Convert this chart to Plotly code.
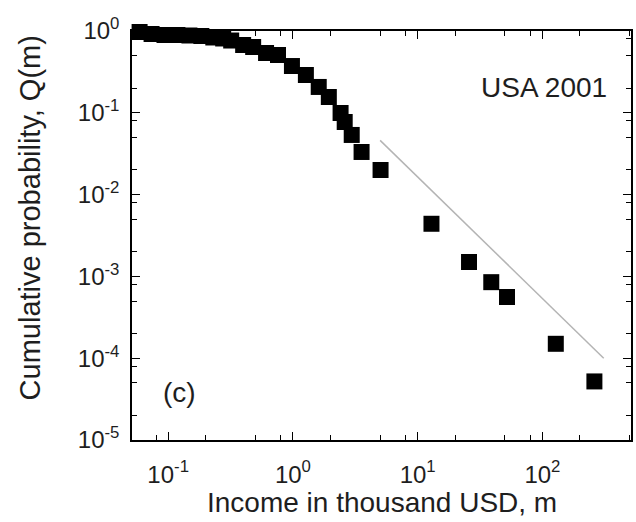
import plotly.graph_objects as go

# Cumulative income distribution, USA 2001 (income in thousand USD)
income = [0.059, 0.0736, 0.0934, 0.1186, 0.148, 0.1845, 0.230, 0.276, 0.320,
          0.399, 0.480, 0.609, 0.759, 0.982, 1.27, 1.61, 1.94, 2.41, 2.60,
          2.96, 3.55, 5.04, 12.9, 25.8, 38.9, 52.0, 128.0, 261.0]
cum_prob = [0.972, 0.919, 0.894, 0.894, 0.881, 0.869, 0.833, 0.81, 0.765,
            0.674, 0.637, 0.538, 0.509, 0.373, 0.290, 0.207, 0.156, 0.0995,
            0.0772, 0.0536, 0.0332, 0.020, 0.0044, 0.0015, 0.00085, 0.00056,
            0.000150, 0.000052]

# Power-law guide line (Pareto tail)
fit_x = [5.0, 310.0]
fit_y = [0.046, 0.0001]

x_tickvals = [0.1, 1, 10, 100]
x_ticktext = ["10<sup>-1</sup>", "10<sup>0</sup>", "10<sup>1</sup>", "10<sup>2</sup>"]
y_tickvals = [1e-5, 1e-4, 1e-3, 1e-2, 1e-1, 1]
y_ticktext = ["10<sup>-5</sup>", "10<sup>-4</sup>", "10<sup>-3</sup>",
              "10<sup>-2</sup>", "10<sup>-1</sup>", "10<sup>0</sup>"]
minor_mults = [2, 5, 8]

FONT = "Liberation Sans, Arial, sans-serif"
INK = "#1e1e1e"

def minor_vals(lo_exp, hi_exp):
    return [m * 10 ** e for e in range(lo_exp, hi_exp) for m in minor_mults]

fig = go.Figure()
fig.add_trace(go.Scatter(
    x=fit_x, y=fit_y, mode="lines",
    line=dict(color="#b4b4b4", width=1.5),
    showlegend=False, hoverinfo="skip",
))
fig.add_trace(go.Scatter(
    x=income, y=cum_prob, mode="markers",
    marker=dict(symbol="square", size=16, color="black", line=dict(width=0)),
    cliponaxis=False, showlegend=False,
))

axis_common = dict(
    showgrid=False, zeroline=False,
    showline=True, linecolor="black", linewidth=1.5, mirror="allticks",
    ticks="inside", ticklen=8, tickwidth=1.2, tickcolor="black",
    tickfont=dict(family=FONT, size=24, color=INK),
)

fig.update_xaxes(
    type="log", range=[-1.29, 2.71],
    tickvals=x_tickvals, ticktext=x_ticktext,
    minor=dict(tickvals=minor_vals(-2, 3), ticks="inside", ticklen=5,
               tickwidth=1.2, tickcolor="black"),
    ticklabelstandoff=12,
    **axis_common,
)
fig.update_yaxes(
    type="log", range=[-5, 0],
    tickvals=y_tickvals, ticktext=y_ticktext,
    minor=dict(tickvals=minor_vals(-5, 0), ticks="inside", ticklen=5,
               tickwidth=1.2, tickcolor="black"),
    ticklabelstandoff=6,
    **axis_common,
)

text_font = dict(family=FONT, size=28, color=INK)
fig.add_annotation(text="Income in thousand USD, m", xref="paper", yref="paper",
                   x=0.5, y=-0.154, xanchor="center", yanchor="middle",
                   showarrow=False, font=text_font)
fig.add_annotation(text="Cumulative probability, Q(m)", xref="paper", yref="paper",
                   x=(30 - 132) / 501, y=(440 - 218) / 409, textangle=-90,
                   xanchor="center", yanchor="middle",
                   showarrow=False, font=dict(family=FONT, size=29, color=INK))
fig.add_annotation(text="USA 2001", xref="paper", yref="paper",
                   x=0.826, y=0.861, xanchor="center", yanchor="middle",
                   showarrow=False, font=text_font)
fig.add_annotation(text="(c)", xref="paper", yref="paper",
                   x=0.096, y=0.117, xanchor="center", yanchor="middle",
                   showarrow=False, font=text_font)

fig.update_layout(
    width=636, height=522,
    margin=dict(l=132, r=3, t=31, b=82),
    paper_bgcolor="white", plot_bgcolor="white",
)

fig.write_html("out.html")
